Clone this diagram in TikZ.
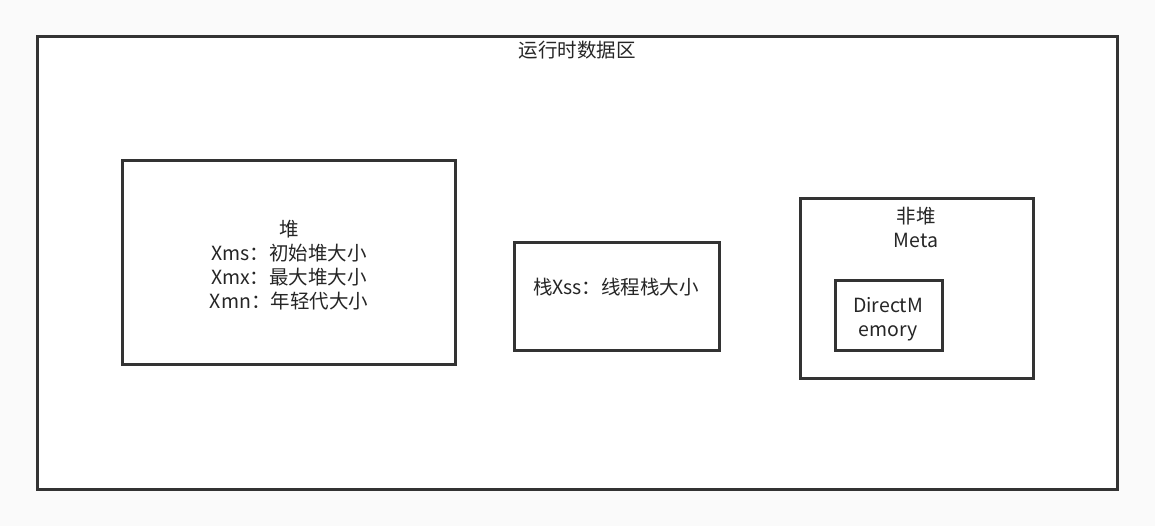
\documentclass[tikz,border=0pt]{standalone}
\usepackage{fontspec}
\setmainfont{Noto Sans CJK SC}
\usetikzlibrary{positioning}

\begin{document}
\begin{tikzpicture}[x=1pt,y=-1pt]
\tikzset{area/.style={draw=black!80,line width=3pt,fill=white,inner sep=0pt}}
\tikzstyle{txt} =[align=center,font=\fontsize{19.5}{24}\selectfont,text=black!85,inner sep=0pt]

\fill[black!2] (0,0) rectangle (1155,526);
\useasboundingbox (0,0) rectangle (1155,526);

\node[area,minimum width=1080pt,minimum height=452pt](rda) at (577,263){};
\node[txt,anchor=north](rdaT) at (577,41){运行时数据区};

\node[area,minimum width=333pt,minimum height=203pt](heap) at (288.5,262.5){};
\node[txt](heapT) at (289,265){堆\\Xms：初始堆大小\\Xmx：最大堆大小\\Xmn：年轻代大小};

\node[area,minimum width=205pt,minimum height=107pt](stack) at (616.5,296.5){};
\node[txt](stackT) at (616,287){栈Xss：线程栈大小};

\node[area,minimum width=233pt,minimum height=179pt](nonheap) at (916.5,288.5){};
\node[txt](nonheapT) at (916,227){非堆\\Meta};

\node[area,minimum width=107pt,minimum height=69pt](dm) at (888.5,315.5){};
\node[txt](dmT) at (888,319){DirectM\\emory};
\end{tikzpicture}
\end{document}
